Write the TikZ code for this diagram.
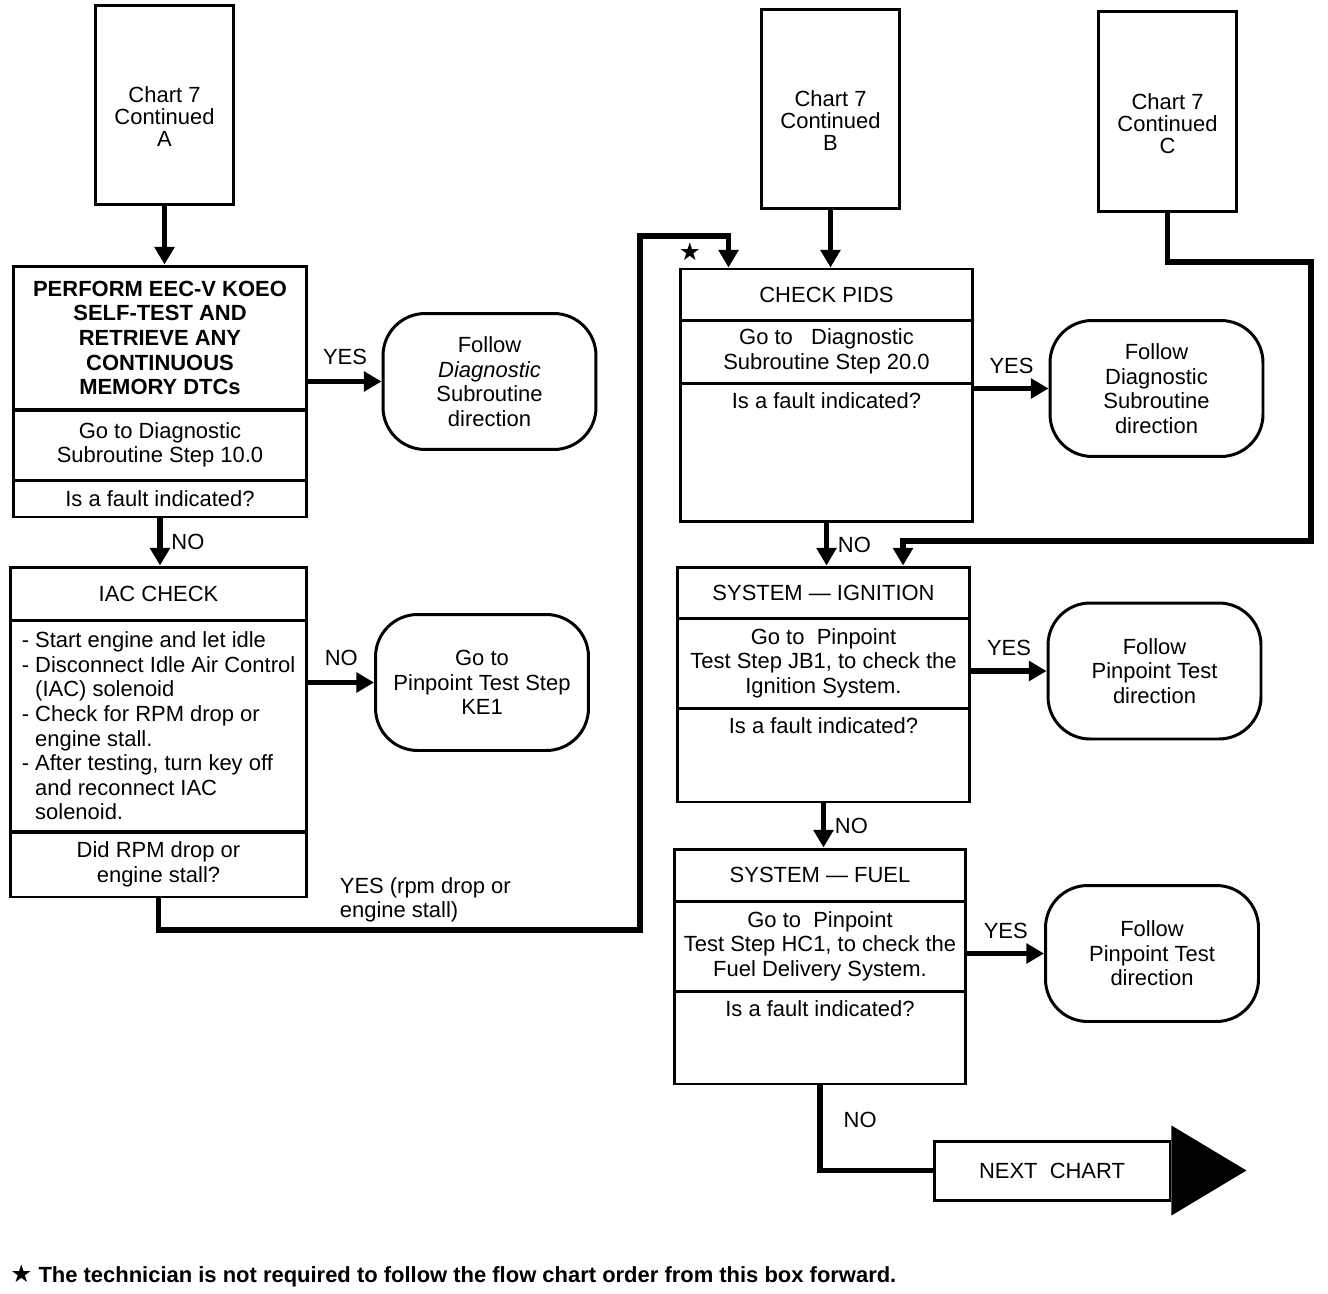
\documentclass[tikz,border=0pt]{standalone}
\usepackage{fontspec}
\setmainfont{Liberation Sans}
\newfontfamily\symbolfont{DejaVu Sans}
\usetikzlibrary{arrows.meta,positioning}
\newcommand{\chartfont}{\fontsize{12.5}{14}\selectfont}
\tikzset{chart box/.style={draw, line width=1.7pt, minimum width=2.76cm,
    minimum height=4cm, label={[align=center, font=\fontsize{12.5}{12.5}\selectfont, yshift=-0.24cm]center:#1}}}
\tikzset{step part/.style={draw, line width=1.7pt, minimum width=#1,
    inner sep=0pt, align=center, font=\chartfont}}
\tikzset{result box/.style={draw, line width=1.7pt, rounded corners=24pt,
    minimum width=4.26cm, minimum height=2.72cm, align=center, font=\chartfont}}
\tikzset{fault text/.style={label={[anchor=north, font=\chartfont, yshift=-0.1cm]north:Is a fault indicated?}}}
\tikzset{flow edge/.style={line width=3pt, -{Triangle[length=10pt,width=11pt]}}}
\tikzset{flow line/.style={line width=3pt}}
\tikzset{edge label/.style={font=\chartfont, inner sep=2pt}}

\begin{document}
\begin{tikzpicture}
  [x=0.02cm, y=-0.02cm]
  \useasboundingbox (0,0) rectangle (1328,1294);

  % chart entry boxes
  \node [chart box={Chart 7\\Continued\\A}] (chartA) at ( 164.5, 105.0) {};
  \node [chart box={Chart 7\\Continued\\B}] (chartB) at ( 830.5, 109.0) {};
  \node [chart box={Chart 7\\Continued\\C}] (chartC) at (1167.5, 111.5) {};

  % left column
  \node [step part=5.88cm, minimum height=2.88cm, font=\chartfont\bfseries] (koeo1) at (160, 338.0)
    {PERFORM EEC-V KOEO\\SELF-TEST AND\\RETRIEVE ANY\\CONTINUOUS\\MEMORY DTCs};
  \node [step part=5.88cm, minimum height=1.40cm] (koeo2) at (160, 445.0) {Go to Diagnostic\\Subroutine Step 10.0};
  \node [step part=5.88cm, minimum height=0.74cm] (koeo3) at (160, 498.5) {Is a fault indicated?};

  \node [step part=5.94cm, minimum height=1.06cm] (iac1) at (158.5, 593.5) {IAC CHECK};
  \node [step part=5.94cm, minimum height=4.24cm, align=left] (iac2) at (158.5, 726.0)
    {- Start engine and let idle\\- Disconnect Idle Air Control\\\phantom{- }(IAC) solenoid\\- Check for RPM drop or\\\phantom{- }engine stall.\\- After testing, turn key off\\\phantom{- }and reconnect IAC\\\phantom{- }solenoid.};
  \node [step part=5.94cm, minimum height=1.30cm] (iac3) at (158.5, 864.5) {Did RPM drop or\\engine stall?};

  \node [result box] (koeoYes) at (489.5, 381.5) {Follow\\\textit{Diagnostic}\\Subroutine\\direction};
  \node [result box] (iacNo)   at (482.0, 682.5) {Go to\\Pinpoint Test Step\\KE1};

  % right column
  \node [step part=5.86cm, minimum height=1.02cm] (pids1) at (826.5, 294.5) {CHECK PIDS};
  \node [step part=5.86cm, minimum height=1.26cm] (pids2) at (826.5, 351.5) {Go to\ \ \ Diagnostic\\Subroutine Step 20.0};
  \node [step part=5.86cm, minimum height=2.78cm, fault text] (pids3) at (826.5, 452.5) {};

  \node [step part=5.86cm, minimum height=1.02cm] (ign1) at (823.5, 592.5) {SYSTEM — IGNITION};
  \node [step part=5.86cm, minimum height=1.80cm] (ign2) at (823.5, 663.0) {Go to\ \ Pinpoint\\Test Step JB1, to check the\\Ignition System.};
  \node [step part=5.86cm, minimum height=1.88cm, fault text] (ign3) at (823.5, 755.0) {};

  \node [step part=5.84cm, minimum height=1.04cm] (fuel1) at (820.0, 875.0) {SYSTEM — FUEL};
  \node [step part=5.84cm, minimum height=1.80cm] (fuel2) at (820.0, 946.0) {Go to\ \ Pinpoint\\Test Step HC1, to check the\\Fuel Delivery System.};
  \node [step part=5.84cm, minimum height=1.86cm, fault text] (fuel3) at (820.0, 1037.5) {};

  \node [result box] (pidsYes) at (1156.5, 388.5) {Follow\\Diagnostic\\Subroutine\\direction};
  \node [result box] (ignYes)  at (1154.5, 671.0) {Follow\\Pinpoint Test\\direction};
  \node [result box] (fuelYes) at (1152.0, 953.5) {Follow\\Pinpoint Test\\direction};

  \node [step part=4.72cm, minimum height=1.18cm] (next) at (1052, 1170.5) {NEXT\ \ CHART};
  \fill ([yshift=0.28cm]next.north east) -- ([xshift=1.5cm]next.east) -- ([yshift=-0.28cm]next.south east) -- cycle;

  % connectors
  \coordinate (yesLow)  at (640, 930);
  \coordinate (yesHigh) at (640, 236);
  \coordinate (cTurn)   at (1311, 262);
  \coordinate (cDrop)   at (903, 541);

  \draw [flow edge] (chartA.south) -- (chartA.south |- koeo1.north);
  \draw [flow edge] (koeoYes.west -| koeo1.east) -- node [edge label, above=6pt] {YES} (koeoYes.west);
  \draw [flow edge] (koeo3.south) -- node [edge label, right=3pt] {NO} (koeo3.south |- iac1.north);
  \draw [flow edge] (iacNo.west -| iac2.east) -- node [edge label, above=6pt] {NO} (iacNo.west);
  \draw [flow edge] (iac3.south) |- (yesLow) -- (yesHigh) -| ([xshift=1cm]pids1.north west);
  \node [edge label, anchor=west, align=left] (yesRpm) at (336, 900) {YES (rpm drop or\\engine stall)};
  \node [inner sep=0pt, font=\symbolfont\fontsize{14}{14}\selectfont] (star) at (690, 252) {★};

  \draw [flow edge] (chartB.south) -- (chartB.south |- pids1.north);
  \draw [flow edge] (chartC.south) |- (cTurn) |- (cDrop) -- (cDrop |- ign1.north);
  \draw [flow edge] (pidsYes.west -| pids3.east) -- node [edge label, above=5pt] {YES} (pidsYes.west);
  \draw [flow edge] (pids3.south) -- node [edge label, right=3pt] {NO} (pids3.south |- ign1.north);
  \draw [flow edge] (ignYes.west -| ign2.east) -- node [edge label, above=5pt] {YES} (ignYes.west);
  \draw [flow edge] (ign3.south) -- node [edge label, right=3pt] {NO} (ign3.south |- fuel1.north);
  \draw [flow edge] (fuelYes.west -| fuel2.east) -- node [edge label, above=5pt] {YES} (fuelYes.west);
  \draw [flow line] (fuel3.south) |- node [edge label, right=10pt, pos=0.2] {NO} (next.west);

  % footnote
  \node [anchor=west, inner sep=0pt, font=\chartfont\bfseries] (footnote) at (10, 1276)
    {{\symbolfont\fontsize{14}{14}\selectfont ★} The technician is not required to follow the flow chart order from this box forward.};
\end{tikzpicture}
\end{document}
